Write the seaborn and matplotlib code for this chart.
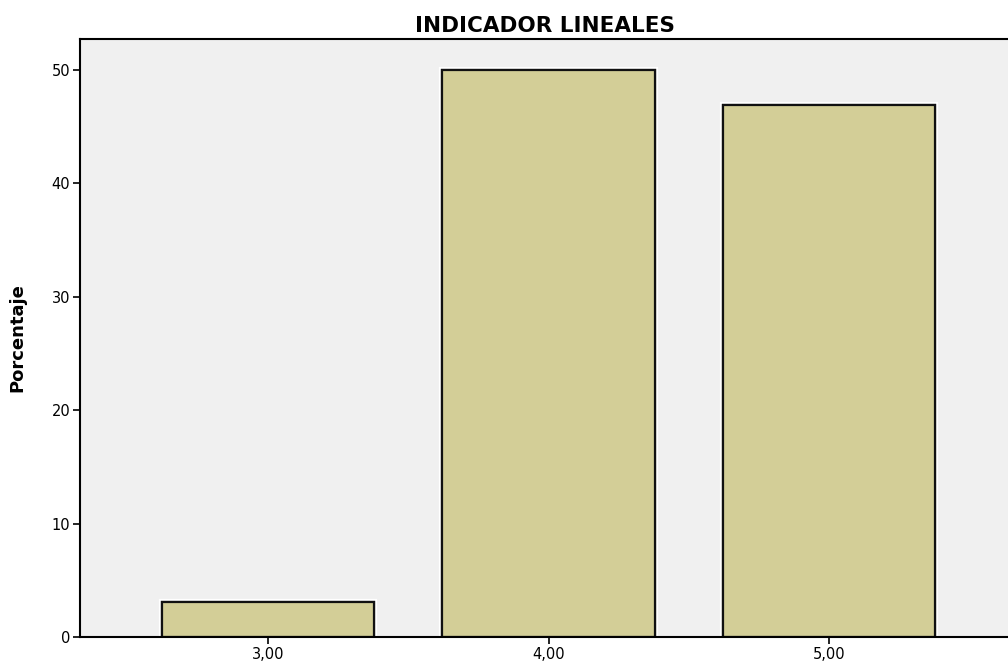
import matplotlib
matplotlib.use("Agg")
import matplotlib.pyplot as plt
import matplotlib.patheffects as pe
import seaborn as sns
import pandas as pd

categories = ["3,00", "4,00", "5,00"]
values = [3.125, 50.0, 46.875]
yticks = [0, 10, 20, 30, 40, 50]

sns.set_style("white")
plt.rcParams['font.family'] = ['DejaVu Sans']
plt.rcParams['text.color'] = 'black'
plt.rcParams['axes.labelcolor'] = 'black'
plt.rcParams['xtick.color'] = 'black'
plt.rcParams['ytick.color'] = 'black'

fig = plt.figure(figsize=(10.08, 6.66), dpi=100)
ax = fig.add_axes([80/1008, 1-637/666, 1-80/1008 + 0.002, (637-39)/666])
ax.set_facecolor("#F0F0F0")

df = pd.DataFrame({"cat": categories, "val": values})
sns.barplot(data=df, x="cat", y="val", color="#D3CE97", saturation=1,
            edgecolor="#111111", linewidth=1.6, width=0.757, ax=ax)
for p in ax.patches:
    p.set_path_effects([pe.withStroke(linewidth=4.5, foreground="white"), pe.Normal()])

ax.set_xlim(-0.671, 2.645)
ax.set_ylim(0, 52.7)
ax.set_yticks(yticks)
ax.set_yticklabels([str(t) for t in yticks])
ax.tick_params(axis="both", direction="out", length=5, width=1.2, colors="black",
               left=True, bottom=True, labelsize=10.5, pad=2)
ax.set_xlabel("")
ax.set_ylabel("Porcentaje", fontsize=13, fontweight="bold", labelpad=18, color="black")
ax.set_title("INDICADOR LINEALES", fontsize=15.5, fontweight="bold", pad=5, color="black")
for s in ax.spines.values():
    s.set_visible(True)
    s.set_color("black")
    s.set_linewidth(1.5)

fig.savefig("out.png", dpi=100)
